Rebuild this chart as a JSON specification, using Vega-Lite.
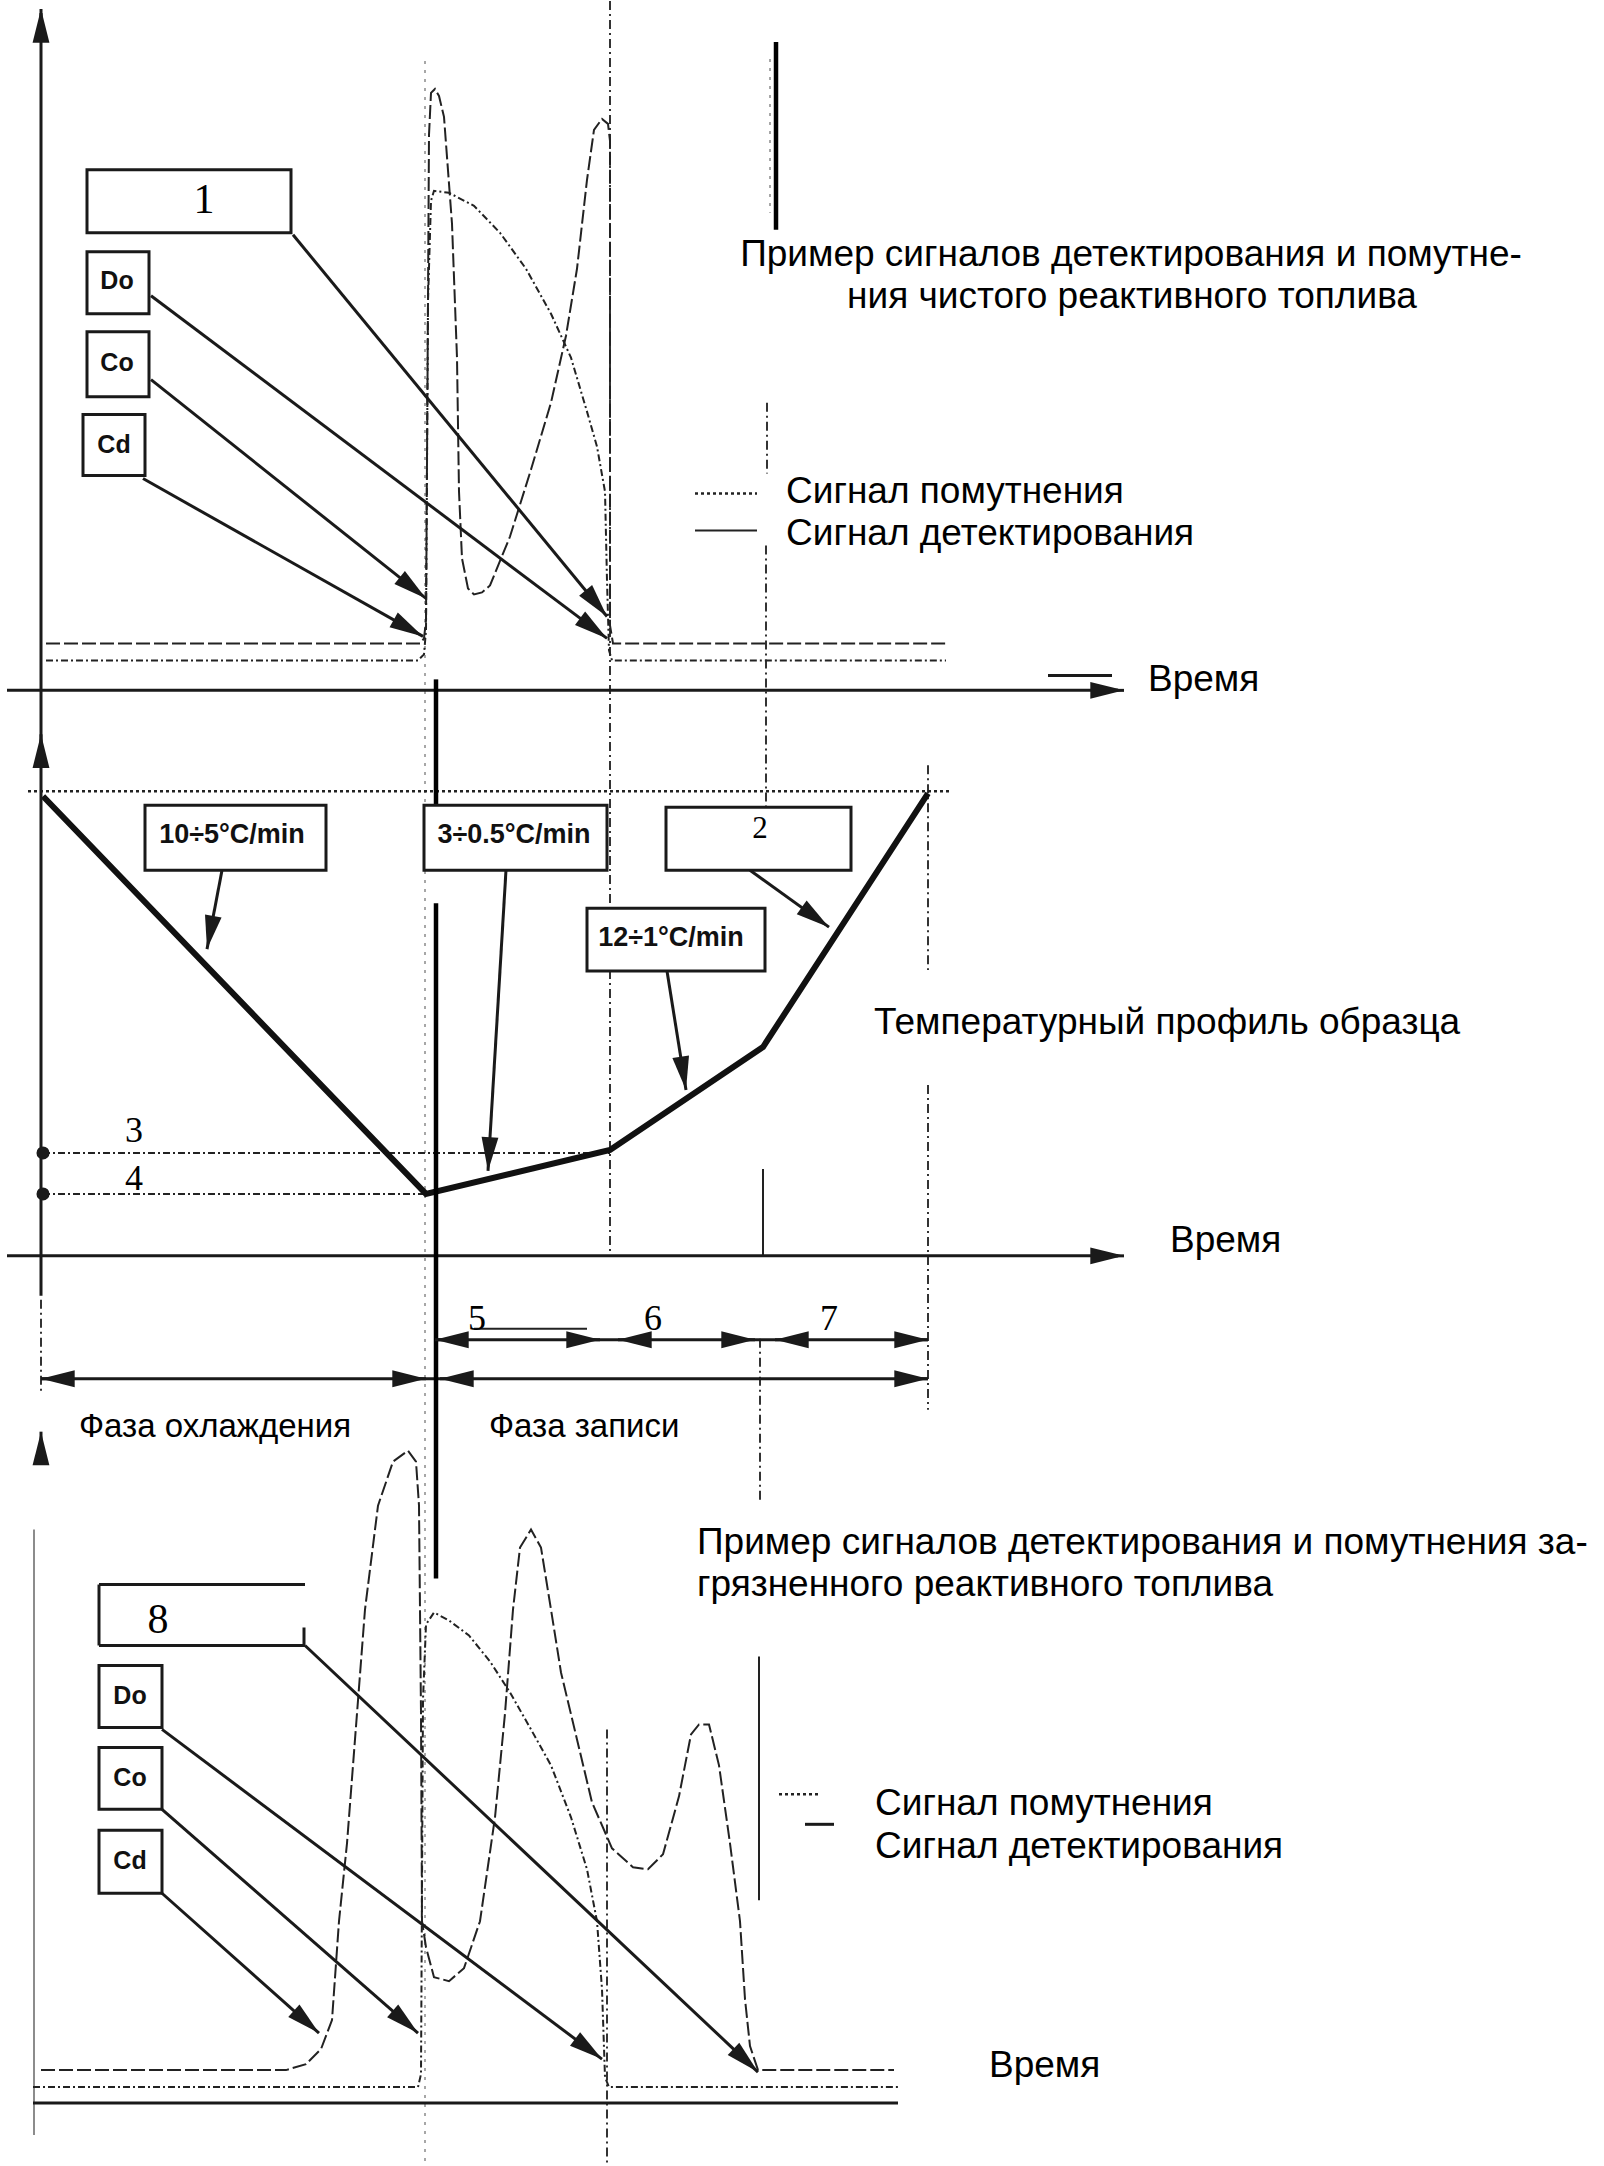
{
  "$schema": "https://vega.github.io/schema/vega-lite/v6.json",
  "width": 1604,
  "height": 2166,
  "padding": 0,
  "autosize": {"type": "fit", "contains": "padding"},
  "background": "white",
  "config": {"view": {"stroke": null}},
  "datasets": {
    "curves": [
      {"c": "top_det", "i": 1, "x": 46, "y": 643}, {"c": "top_det", "i": 2, "x": 420, "y": 643}, {"c": "top_det", "i": 3, "x": 424, "y": 638}, {"c": "top_det", "i": 4, "x": 426, "y": 620}, {"c": "top_det", "i": 5, "x": 428, "y": 300}, {"c": "top_det", "i": 6, "x": 429, "y": 134}, {"c": "top_det", "i": 7, "x": 431, "y": 92}, {"c": "top_det", "i": 8, "x": 435, "y": 88}, {"c": "top_det", "i": 9, "x": 439, "y": 95}, {"c": "top_det", "i": 10, "x": 444, "y": 116}, {"c": "top_det", "i": 11, "x": 452, "y": 223}, {"c": "top_det", "i": 12, "x": 457, "y": 357}, {"c": "top_det", "i": 13, "x": 459, "y": 491}, {"c": "top_det", "i": 14, "x": 462, "y": 558}, {"c": "top_det", "i": 15, "x": 468, "y": 588}, {"c": "top_det", "i": 16, "x": 474, "y": 594}, {"c": "top_det", "i": 17, "x": 482, "y": 592}, {"c": "top_det", "i": 18, "x": 490, "y": 585}, {"c": "top_det", "i": 19, "x": 510, "y": 536}, {"c": "top_det", "i": 20, "x": 531, "y": 469}, {"c": "top_det", "i": 21, "x": 551, "y": 402}, {"c": "top_det", "i": 22, "x": 566, "y": 335}, {"c": "top_det", "i": 23, "x": 577, "y": 268}, {"c": "top_det", "i": 24, "x": 587, "y": 179}, {"c": "top_det", "i": 25, "x": 594, "y": 129}, {"c": "top_det", "i": 26, "x": 602, "y": 118}, {"c": "top_det", "i": 27, "x": 608, "y": 123}, {"c": "top_det", "i": 28, "x": 610, "y": 140}, {"c": "top_det", "i": 29, "x": 610, "y": 625}, {"c": "top_det", "i": 30, "x": 613, "y": 643}, {"c": "top_det", "i": 31, "x": 946, "y": 643},
      {"c": "top_cld", "i": 1, "x": 46, "y": 660}, {"c": "top_cld", "i": 2, "x": 418, "y": 660}, {"c": "top_cld", "i": 3, "x": 424, "y": 654}, {"c": "top_cld", "i": 4, "x": 426, "y": 630}, {"c": "top_cld", "i": 5, "x": 428, "y": 300}, {"c": "top_cld", "i": 6, "x": 431, "y": 200}, {"c": "top_cld", "i": 7, "x": 434, "y": 190}, {"c": "top_cld", "i": 8, "x": 449, "y": 192}, {"c": "top_cld", "i": 9, "x": 474, "y": 205}, {"c": "top_cld", "i": 10, "x": 500, "y": 232}, {"c": "top_cld", "i": 11, "x": 526, "y": 268}, {"c": "top_cld", "i": 12, "x": 551, "y": 313}, {"c": "top_cld", "i": 13, "x": 571, "y": 357}, {"c": "top_cld", "i": 14, "x": 587, "y": 411}, {"c": "top_cld", "i": 15, "x": 597, "y": 446}, {"c": "top_cld", "i": 16, "x": 605, "y": 491}, {"c": "top_cld", "i": 17, "x": 607, "y": 580}, {"c": "top_cld", "i": 18, "x": 609, "y": 650}, {"c": "top_cld", "i": 19, "x": 612, "y": 660}, {"c": "top_cld", "i": 20, "x": 946, "y": 660},
      {"c": "bot_det", "i": 1, "x": 41, "y": 2071}, {"c": "bot_det", "i": 2, "x": 286, "y": 2071}, {"c": "bot_det", "i": 3, "x": 306, "y": 2065}, {"c": "bot_det", "i": 4, "x": 321, "y": 2050}, {"c": "bot_det", "i": 5, "x": 332, "y": 2021}, {"c": "bot_det", "i": 6, "x": 339, "y": 1922}, {"c": "bot_det", "i": 7, "x": 347, "y": 1844}, {"c": "bot_det", "i": 8, "x": 357, "y": 1714}, {"c": "bot_det", "i": 9, "x": 365, "y": 1610}, {"c": "bot_det", "i": 10, "x": 378, "y": 1506}, {"c": "bot_det", "i": 11, "x": 393, "y": 1462}, {"c": "bot_det", "i": 12, "x": 408, "y": 1451}, {"c": "bot_det", "i": 13, "x": 416, "y": 1462}, {"c": "bot_det", "i": 14, "x": 419, "y": 1506}, {"c": "bot_det", "i": 15, "x": 421, "y": 1714}, {"c": "bot_det", "i": 16, "x": 422, "y": 1922}, {"c": "bot_det", "i": 17, "x": 426, "y": 1948}, {"c": "bot_det", "i": 18, "x": 434, "y": 1978}, {"c": "bot_det", "i": 19, "x": 449, "y": 1982}, {"c": "bot_det", "i": 20, "x": 464, "y": 1969}, {"c": "bot_det", "i": 21, "x": 480, "y": 1922}, {"c": "bot_det", "i": 22, "x": 495, "y": 1818}, {"c": "bot_det", "i": 23, "x": 505, "y": 1714}, {"c": "bot_det", "i": 24, "x": 513, "y": 1610}, {"c": "bot_det", "i": 25, "x": 520, "y": 1548}, {"c": "bot_det", "i": 26, "x": 531, "y": 1530}, {"c": "bot_det", "i": 27, "x": 541, "y": 1548}, {"c": "bot_det", "i": 28, "x": 551, "y": 1610}, {"c": "bot_det", "i": 29, "x": 561, "y": 1673}, {"c": "bot_det", "i": 30, "x": 577, "y": 1740}, {"c": "bot_det", "i": 31, "x": 592, "y": 1803}, {"c": "bot_det", "i": 32, "x": 612, "y": 1849}, {"c": "bot_det", "i": 33, "x": 633, "y": 1868}, {"c": "bot_det", "i": 34, "x": 648, "y": 1870}, {"c": "bot_det", "i": 35, "x": 663, "y": 1855}, {"c": "bot_det", "i": 36, "x": 679, "y": 1797}, {"c": "bot_det", "i": 37, "x": 691, "y": 1735}, {"c": "bot_det", "i": 38, "x": 699, "y": 1725}, {"c": "bot_det", "i": 39, "x": 709, "y": 1725}, {"c": "bot_det", "i": 40, "x": 719, "y": 1766}, {"c": "bot_det", "i": 41, "x": 730, "y": 1844}, {"c": "bot_det", "i": 42, "x": 740, "y": 1922}, {"c": "bot_det", "i": 43, "x": 745, "y": 2000}, {"c": "bot_det", "i": 44, "x": 750, "y": 2047}, {"c": "bot_det", "i": 45, "x": 758, "y": 2071}, {"c": "bot_det", "i": 46, "x": 894, "y": 2071},
      {"c": "bot_cld", "i": 1, "x": 33, "y": 2088}, {"c": "bot_cld", "i": 2, "x": 418, "y": 2088}, {"c": "bot_cld", "i": 3, "x": 421, "y": 2075}, {"c": "bot_cld", "i": 4, "x": 423, "y": 1700}, {"c": "bot_cld", "i": 5, "x": 426, "y": 1625}, {"c": "bot_cld", "i": 6, "x": 434, "y": 1613}, {"c": "bot_cld", "i": 7, "x": 449, "y": 1621}, {"c": "bot_cld", "i": 8, "x": 469, "y": 1636}, {"c": "bot_cld", "i": 9, "x": 490, "y": 1662}, {"c": "bot_cld", "i": 10, "x": 510, "y": 1693}, {"c": "bot_cld", "i": 11, "x": 531, "y": 1730}, {"c": "bot_cld", "i": 12, "x": 551, "y": 1766}, {"c": "bot_cld", "i": 13, "x": 571, "y": 1818}, {"c": "bot_cld", "i": 14, "x": 587, "y": 1870}, {"c": "bot_cld", "i": 15, "x": 597, "y": 1922}, {"c": "bot_cld", "i": 16, "x": 602, "y": 1990}, {"c": "bot_cld", "i": 17, "x": 605, "y": 2078}, {"c": "bot_cld", "i": 18, "x": 609, "y": 2088}, {"c": "bot_cld", "i": 19, "x": 898, "y": 2088},
      {"c": "profile", "i": 1, "x": 43, "y": 796}, {"c": "profile", "i": 2, "x": 426, "y": 1194}, {"c": "profile", "i": 3, "x": 610, "y": 1150}, {"c": "profile", "i": 4, "x": 763, "y": 1047}, {"c": "profile", "i": 5, "x": 928, "y": 793}
    ],
    "segs": [
      {"k": "axis", "x": 7, "y": 690, "x2": 1118, "y2": 690},
      {"k": "axis", "x": 7, "y": 1256, "x2": 1118, "y2": 1256},
      {"k": "axis", "x": 33, "y": 2104, "x2": 898, "y2": 2104},
      {"k": "axis", "x": 41, "y": 12, "x2": 41, "y2": 1296},
      {"k": "axis", "x": 1048, "y": 675, "x2": 1112, "y2": 675},
      {"k": "axis", "x": 435, "y": 1340, "x2": 928, "y2": 1340},
      {"k": "axis", "x": 41, "y": 1379, "x2": 928, "y2": 1379},
      {"k": "axis", "x": 99, "y": 1585, "x2": 305, "y2": 1585},
      {"k": "axis", "x": 99, "y": 1585, "x2": 99, "y2": 1646},
      {"k": "axis", "x": 99, "y": 1646, "x2": 305, "y2": 1646},
      {"k": "axis", "x": 304, "y": 1628, "x2": 304, "y2": 1646},
      {"k": "axis", "x": 805, "y": 1825, "x2": 834, "y2": 1825},
      {"k": "thin", "x": 474, "y": 1329, "x2": 587, "y2": 1329},
      {"k": "thin", "x": 763, "y": 1169, "x2": 763, "y2": 1257},
      {"k": "thin", "x": 759, "y": 1657, "x2": 759, "y2": 1901},
      {"k": "thin", "x": 695, "y": 530, "x2": 757, "y2": 530},
      {"k": "gray", "x": 34, "y": 1530, "x2": 34, "y2": 2136},
      {"k": "thick", "x": 436, "y": 679, "x2": 436, "y2": 805},
      {"k": "thick", "x": 436, "y": 903, "x2": 436, "y2": 1579},
      {"k": "thick", "x": 776, "y": 41, "x2": 776, "y2": 229},
      {"k": "guide", "x": 610, "y": 0, "x2": 610, "y2": 1257},
      {"k": "guide", "x": 607, "y": 1730, "x2": 607, "y2": 2166},
      {"k": "guide", "x": 767, "y": 402, "x2": 767, "y2": 473},
      {"k": "guide", "x": 766, "y": 545, "x2": 766, "y2": 806},
      {"k": "guide", "x": 760, "y": 1339, "x2": 760, "y2": 1503},
      {"k": "guide", "x": 928, "y": 765, "x2": 928, "y2": 970},
      {"k": "guide", "x": 928, "y": 1085, "x2": 928, "y2": 1410},
      {"k": "guide", "x": 41, "y": 1300, "x2": 41, "y2": 1395},
      {"k": "faint", "x": 425, "y": 60, "x2": 425, "y2": 2166},
      {"k": "faint", "x": 770, "y": 58, "x2": 770, "y2": 212},
      {"k": "dotted", "x": 28, "y": 791, "x2": 951, "y2": 791},
      {"k": "dotted", "x": 695, "y": 493, "x2": 757, "y2": 493},
      {"k": "dotted", "x": 779, "y": 1795, "x2": 821, "y2": 1795},
      {"k": "dashed", "x": 43, "y": 1153, "x2": 610, "y2": 1153},
      {"k": "dashed", "x": 43, "y": 1194, "x2": 426, "y2": 1194}
    ],
    "arrows": [
      {"x": 293, "y": 234, "x2": 607, "y2": 616},
      {"x": 151, "y": 295, "x2": 607, "y2": 638},
      {"x": 151, "y": 379, "x2": 426, "y2": 598},
      {"x": 143, "y": 478, "x2": 423, "y2": 636},
      {"x": 222, "y": 870, "x2": 207, "y2": 949},
      {"x": 506, "y": 870, "x2": 488, "y2": 1171},
      {"x": 750, "y": 870, "x2": 829, "y2": 927},
      {"x": 667, "y": 971, "x2": 686, "y2": 1090},
      {"x": 305, "y": 1646, "x2": 758, "y2": 2073},
      {"x": 162, "y": 1730, "x2": 602, "y2": 2060},
      {"x": 162, "y": 1810, "x2": 418, "y2": 2034},
      {"x": 162, "y": 1894, "x2": 319, "y2": 2034},
      {"x": 445, "y": 1340, "x2": 435, "y2": 1340},
      {"x": 590, "y": 1340, "x2": 600, "y2": 1340},
      {"x": 628, "y": 1340, "x2": 618, "y2": 1340},
      {"x": 745, "y": 1340, "x2": 755, "y2": 1340},
      {"x": 785, "y": 1340, "x2": 775, "y2": 1340},
      {"x": 918, "y": 1340, "x2": 928, "y2": 1340},
      {"x": 51, "y": 1379, "x2": 41, "y2": 1379},
      {"x": 416, "y": 1379, "x2": 426, "y2": 1379},
      {"x": 450, "y": 1379, "x2": 440, "y2": 1379},
      {"x": 918, "y": 1379, "x2": 928, "y2": 1379},
      {"x": 41, "y": 30, "x2": 41, "y2": 8},
      {"x": 41, "y": 760, "x2": 41, "y2": 734},
      {"x": 41, "y": 1462, "x2": 41, "y2": 1432},
      {"x": 1100, "y": 690, "x2": 1124, "y2": 690},
      {"x": 1100, "y": 1256, "x2": 1124, "y2": 1256}
    ],
    "boxes": [
      {"x": 87, "y": 169, "x2": 291, "y2": 232},
      {"x": 87, "y": 251, "x2": 149, "y2": 313},
      {"x": 87, "y": 331, "x2": 149, "y2": 396},
      {"x": 83, "y": 414, "x2": 145, "y2": 475},
      {"x": 145, "y": 805, "x2": 326, "y2": 870},
      {"x": 424, "y": 805, "x2": 607, "y2": 870},
      {"x": 666, "y": 807, "x2": 851, "y2": 870},
      {"x": 587, "y": 908, "x2": 765, "y2": 971},
      {"x": 99, "y": 1666, "x2": 162, "y2": 1728},
      {"x": 99, "y": 1748, "x2": 162, "y2": 1810},
      {"x": 99, "y": 1831, "x2": 162, "y2": 1894}
    ],
    "dots": [
      {"x": 43, "y": 1153},
      {"x": 43, "y": 1194}
    ],
    "texts": [
      {"g": "titleC", "t": "Пример сигналов детектирования и помутне-", "x": 1131, "y": 254},
      {"g": "titleC", "t": "ния чистого реактивного топлива", "x": 1132, "y": 296},
      {"g": "title", "t": "Сигнал помутнения", "x": 786, "y": 491},
      {"g": "title", "t": "Сигнал детектирования", "x": 786, "y": 533},
      {"g": "title", "t": "Время", "x": 1148, "y": 680},
      {"g": "title", "t": "Температурный профиль образца", "x": 874, "y": 1023},
      {"g": "title", "t": "Время", "x": 1170, "y": 1241},
      {"g": "title", "t": "Пример сигналов детектирования и помутнения за-", "x": 697, "y": 1543},
      {"g": "title", "t": "грязненного реактивного топлива", "x": 697, "y": 1585},
      {"g": "title", "t": "Сигнал помутнения", "x": 875, "y": 1805},
      {"g": "title", "t": "Сигнал детектирования", "x": 875, "y": 1848},
      {"g": "title", "t": "Время", "x": 989, "y": 2067},
      {"g": "phase", "t": "Фаза охлаждения", "x": 79, "y": 1427},
      {"g": "phase", "t": "Фаза записи", "x": 489, "y": 1427},
      {"g": "numL", "t": "1", "x": 204, "y": 199},
      {"g": "numL", "t": "8", "x": 158, "y": 1620},
      {"g": "numM", "t": "3", "x": 134, "y": 1131},
      {"g": "numM", "t": "4", "x": 134, "y": 1179},
      {"g": "numM", "t": "5", "x": 477, "y": 1319},
      {"g": "numM", "t": "6", "x": 653, "y": 1319},
      {"g": "numM", "t": "7", "x": 829, "y": 1319},
      {"g": "numS", "t": "2", "x": 760, "y": 829},
      {"g": "rate", "t": "10÷5°C/min", "x": 232, "y": 835},
      {"g": "rate", "t": "3÷0.5°C/min", "x": 514, "y": 835},
      {"g": "rate", "t": "12÷1°C/min", "x": 671, "y": 938},
      {"g": "code", "t": "Do", "x": 117, "y": 280},
      {"g": "code", "t": "Co", "x": 117, "y": 362},
      {"g": "code", "t": "Cd", "x": 114, "y": 444},
      {"g": "code", "t": "Do", "x": 130, "y": 1697},
      {"g": "code", "t": "Co", "x": 130, "y": 1779},
      {"g": "code", "t": "Cd", "x": 130, "y": 1862}
    ]
  },
  "encoding": {
    "x": {"field": "x", "type": "quantitative", "axis": null, "scale": {"domain": [0, 1604], "nice": false, "zero": false}},
    "y": {"field": "y", "type": "quantitative", "axis": null, "scale": {"domain": [0, 2166], "nice": false, "zero": false, "reverse": true}}
  },
  "layer": [
    {"data": {"name": "segs"}, "transform": [{"filter": "datum.k === 'faint'"}], "mark": {"type": "rule", "color": "#8a8a8a", "strokeWidth": 1.5, "strokeDash": [3, 6]}, "encoding": {"x2": {"field": "x2"}, "y2": {"field": "y2"}}},
    {"data": {"name": "segs"}, "transform": [{"filter": "datum.k === 'guide'"}], "mark": {"type": "rule", "color": "#333", "strokeWidth": 2, "strokeDash": [9, 4, 2, 4]}, "encoding": {"x2": {"field": "x2"}, "y2": {"field": "y2"}}},
    {"data": {"name": "segs"}, "transform": [{"filter": "datum.k === 'gray'"}], "mark": {"type": "rule", "color": "#666", "strokeWidth": 1.5}, "encoding": {"x2": {"field": "x2"}, "y2": {"field": "y2"}}},
    {"data": {"name": "segs"}, "transform": [{"filter": "datum.k === 'dotted'"}], "mark": {"type": "rule", "color": "#222", "strokeWidth": 2.5, "strokeDash": [3, 3]}, "encoding": {"x2": {"field": "x2"}, "y2": {"field": "y2"}}},
    {"data": {"name": "segs"}, "transform": [{"filter": "datum.k === 'dashed'"}], "mark": {"type": "rule", "color": "#222", "strokeWidth": 2, "strokeDash": [7, 3, 2, 3]}, "encoding": {"x2": {"field": "x2"}, "y2": {"field": "y2"}}},
    {"data": {"name": "curves"}, "transform": [{"filter": "datum.c === 'top_cld' || datum.c === 'bot_cld'"}], "mark": {"type": "line", "color": "#222", "strokeWidth": 2, "strokeDash": [7, 3, 2, 3]}, "encoding": {"order": {"field": "i", "type": "quantitative"}, "detail": {"field": "c"}}},
    {"data": {"name": "curves"}, "transform": [{"filter": "datum.c === 'top_det' || datum.c === 'bot_det'"}], "mark": {"type": "line", "color": "#222", "strokeWidth": 2, "strokeDash": [14, 4]}, "encoding": {"order": {"field": "i", "type": "quantitative"}, "detail": {"field": "c"}}},
    {"data": {"name": "curves"}, "transform": [{"filter": "datum.c === 'profile'"}], "mark": {"type": "line", "color": "#111", "strokeWidth": 6, "strokeJoin": "miter"}, "encoding": {"order": {"field": "i", "type": "quantitative"}}},
    {"data": {"name": "segs"}, "transform": [{"filter": "datum.k === 'thin'"}], "mark": {"type": "rule", "color": "#222", "strokeWidth": 2}, "encoding": {"x2": {"field": "x2"}, "y2": {"field": "y2"}}},
    {"data": {"name": "segs"}, "transform": [{"filter": "datum.k === 'axis'"}], "mark": {"type": "rule", "color": "#1a1a1a", "strokeWidth": 3}, "encoding": {"x2": {"field": "x2"}, "y2": {"field": "y2"}}},
    {"data": {"name": "segs"}, "transform": [{"filter": "datum.k === 'thick'"}], "mark": {"type": "rule", "color": "#000", "strokeWidth": 4.5}, "encoding": {"x2": {"field": "x2"}, "y2": {"field": "y2"}}},
    {"data": {"name": "boxes"}, "mark": {"type": "rect", "fill": "white", "stroke": "#1a1a1a", "strokeWidth": 3}, "encoding": {"x2": {"field": "x2"}, "y2": {"field": "y2"}}},
    {"data": {"name": "arrows"}, "mark": {"type": "rule", "color": "#1a1a1a", "strokeWidth": 3}, "encoding": {"x2": {"field": "x2"}, "y2": {"field": "y2"}}},
    {"data": {"name": "arrows"}, "transform": [{"calculate": "(atan2(datum.x2 - datum.x, datum.y - datum.y2) * 180 / PI + 360) % 360", "as": "ang"}], "mark": {"type": "point", "filled": true, "color": "#1a1a1a", "opacity": 1, "size": 1400, "shape": "M0,0L0.45,1.8L-0.45,1.8Z"}, "encoding": {"x": {"field": "x2", "type": "quantitative"}, "y": {"field": "y2", "type": "quantitative"}, "angle": {"field": "ang", "type": "quantitative", "scale": null}}},
    {"data": {"name": "dots"}, "mark": {"type": "circle", "color": "#1a1a1a", "opacity": 1, "size": 170}},
    {"data": {"name": "texts"}, "transform": [{"filter": "datum.g === 'titleC'"}], "mark": {"type": "text", "font": "Liberation Sans", "fontSize": 37, "align": "center", "baseline": "middle", "color": "#000"}, "encoding": {"text": {"field": "t"}}},
    {"data": {"name": "texts"}, "transform": [{"filter": "datum.g === 'title'"}], "mark": {"type": "text", "font": "Liberation Sans", "fontSize": 37, "align": "left", "baseline": "middle", "color": "#000"}, "encoding": {"text": {"field": "t"}}},
    {"data": {"name": "texts"}, "transform": [{"filter": "datum.g === 'phase'"}], "mark": {"type": "text", "font": "Liberation Sans", "fontSize": 33, "align": "left", "baseline": "middle", "color": "#000"}, "encoding": {"text": {"field": "t"}}},
    {"data": {"name": "texts"}, "transform": [{"filter": "datum.g === 'numL'"}], "mark": {"type": "text", "font": "Liberation Serif", "fontSize": 42, "align": "center", "baseline": "middle", "color": "#000"}, "encoding": {"text": {"field": "t"}}},
    {"data": {"name": "texts"}, "transform": [{"filter": "datum.g === 'numM'"}], "mark": {"type": "text", "font": "Liberation Serif", "fontSize": 36, "align": "center", "baseline": "middle", "color": "#000"}, "encoding": {"text": {"field": "t"}}},
    {"data": {"name": "texts"}, "transform": [{"filter": "datum.g === 'numS'"}], "mark": {"type": "text", "font": "Liberation Serif", "fontSize": 31, "align": "center", "baseline": "middle", "color": "#000"}, "encoding": {"text": {"field": "t"}}},
    {"data": {"name": "texts"}, "transform": [{"filter": "datum.g === 'rate'"}], "mark": {"type": "text", "font": "Liberation Sans", "fontSize": 27, "fontWeight": "bold", "align": "center", "baseline": "middle", "color": "#111", "letterSpacing": -1}, "encoding": {"text": {"field": "t"}}},
    {"data": {"name": "texts"}, "transform": [{"filter": "datum.g === 'code'"}], "mark": {"type": "text", "font": "Liberation Sans", "fontSize": 25, "fontWeight": "bold", "align": "center", "baseline": "middle", "color": "#111", "letterSpacing": -1}, "encoding": {"text": {"field": "t"}}}
  ]
}
